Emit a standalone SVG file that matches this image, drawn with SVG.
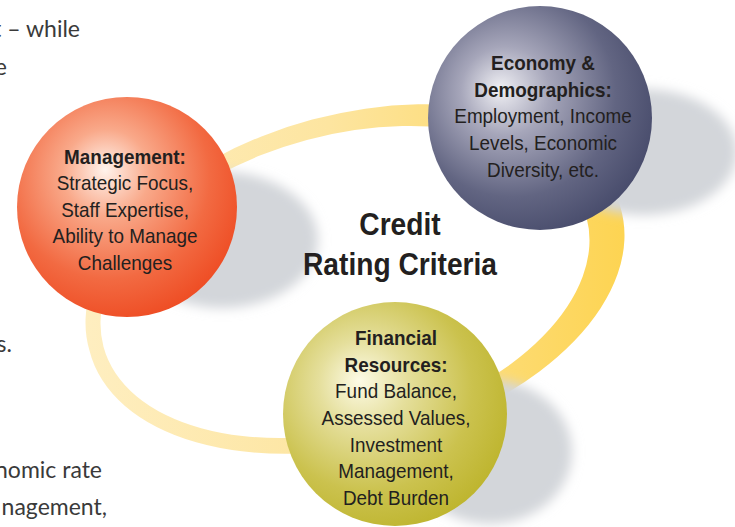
<svg xmlns="http://www.w3.org/2000/svg" width="735" height="527" viewBox="0 0 735 527">
<style>
.page{font-family:Lato,"Open Sans","Liberation Sans",sans-serif;font-size:23px;fill:#3a3a3a;text-anchor:end}
.lbl{font-family:"Liberation Sans",Arial,sans-serif;font-size:21px;fill:#231f20;text-anchor:middle}
.b{font-weight:bold}
.title{font-family:"Liberation Sans",Arial,sans-serif;font-size:32px;font-weight:bold;fill:#231f20;text-anchor:middle}
.shadow{fill:#d3d6da;filter:url(#blur)}
</style>
<defs>
<filter id="blur" x="-40%" y="-40%" width="180%" height="180%"><feGaussianBlur stdDeviation="6"/></filter>
<linearGradient id="ringG" gradientUnits="userSpaceOnUse" x1="86" y1="0" x2="624" y2="0">
<stop offset="0" stop-color="#feeec0"/><stop offset="0.45" stop-color="#fde5a0"/><stop offset="1" stop-color="#fdd452"/>
</linearGradient>
<radialGradient id="gOrange" cx="0.42" cy="0.38" r="0.66" fx="0.4" fy="0.33">
<stop offset="0" stop-color="#fff3ec"/><stop offset="0.3" stop-color="#f9a98a"/><stop offset="0.7" stop-color="#f26a42"/><stop offset="1" stop-color="#ee4b22"/>
</radialGradient>
<radialGradient id="gNavy" cx="0.4" cy="0.4" r="0.66" fx="0.32" fy="0.37">
<stop offset="0" stop-color="#f0f0f4"/><stop offset="0.3" stop-color="#a6a6ba"/><stop offset="0.7" stop-color="#626582"/><stop offset="1" stop-color="#464a6a"/>
</radialGradient>
<radialGradient id="gOlive" cx="0.4" cy="0.4" r="0.66" fx="0.34" fy="0.35">
<stop offset="0" stop-color="#fdfbe6"/><stop offset="0.3" stop-color="#e5df9c"/><stop offset="0.7" stop-color="#cbc24e"/><stop offset="1" stop-color="#bdb42c"/>
</radialGradient>
</defs>
<rect width="735" height="527" fill="#ffffff"/>
<g id="page-text">
<text class="page" x="80" y="37">t – while</text>
<text class="page" x="7" y="75">e</text>
<text class="page" x="12" y="352">s.</text>
<text class="page" x="102" y="478">nomic rate</text>
<text class="page" x="107" y="515">nagement,</text>
</g>
<g id="connectors">
<path fill="url(#ringG)" fill-rule="evenodd" d="M620.6,207.8 A275,163 -15 1 1 89.4,350.2 A275,163 -15 1 1 620.6,207.8 Z M586.5,217.25 A250,147 -15 1 0 103.5,346.75 A250,147 -15 1 0 586.5,217.25 Z"/>
</g>
<g id="node-management">
<ellipse class="shadow" cx="222" cy="240" rx="96" ry="68"/>
<circle cx="127" cy="207" r="110" fill="url(#gOrange)"/>
<g transform="translate(125 0) scale(0.9 1)">
<text class="lbl b" x="0" y="164">Management:</text>
<text class="lbl" x="0" y="190">Strategic Focus,</text>
<text class="lbl" x="0" y="217">Staff Expertise,</text>
<text class="lbl" x="0" y="243">Ability to Manage</text>
<text class="lbl" x="0" y="270">Challenges</text>
</g>
</g>
<g id="node-economy">
<ellipse class="shadow" cx="643" cy="152" rx="94" ry="63"/>
<circle cx="540" cy="118" r="112" fill="url(#gNavy)"/>
<g transform="translate(543 0) scale(0.9 1)">
<text class="lbl b" x="0" y="70">Economy &amp;</text>
<text class="lbl b" x="0" y="97">Demographics:</text>
<text class="lbl" x="0" y="123">Employment, Income</text>
<text class="lbl" x="0" y="150">Levels, Economic</text>
<text class="lbl" x="0" y="177">Diversity, etc.</text>
</g>
</g>
<g id="node-financial">
<ellipse class="shadow" cx="490" cy="452" rx="82" ry="72"/>
<circle cx="395" cy="414" r="112" fill="url(#gOlive)"/>
<g transform="translate(396 0) scale(0.9 1)">
<text class="lbl b" x="0" y="345">Financial</text>
<text class="lbl b" x="0" y="372">Resources:</text>
<text class="lbl" x="0" y="398">Fund Balance,</text>
<text class="lbl" x="0" y="425">Assessed Values,</text>
<text class="lbl" x="0" y="452">Investment</text>
<text class="lbl" x="0" y="478">Management,</text>
<text class="lbl" x="0" y="505">Debt Burden</text>
</g>
</g>
<g id="title">
<g transform="translate(400 0) scale(0.88 1)">
<text class="title" x="0" y="235">Credit</text>
<text class="title" x="0" y="275">Rating Criteria</text>
</g>
</g>
</svg>
